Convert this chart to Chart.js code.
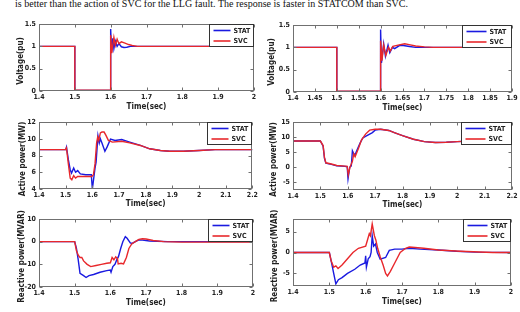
<!DOCTYPE html>
<html><head><meta charset="utf-8">
<script src="https://cdn.jsdelivr.net/npm/chart.js@4/dist/chart.umd.min.js"></script>
<style>
html,body{margin:0;padding:0;background:#fff;width:520px;height:312px;overflow:hidden;position:relative;}
#cap{position:absolute;left:15px;top:-1.4px;font:10px 'Liberation Serif','Times New Roman',serif;line-height:10px;white-space:nowrap;color:#111;transform-origin:0 0;}
.box{position:absolute;}
canvas{display:block;}
</style></head><body>
<div id="cap">is better than the action of SVC for the LLG fault. The response is faster in STATCOM than SVC.</div>
<div class="box" id="b0"><canvas id="c0"></canvas></div>
<div class="box" id="b1"><canvas id="c1"></canvas></div>
<div class="box" id="b2"><canvas id="c2"></canvas></div>
<div class="box" id="b3"><canvas id="c3"></canvas></div>
<div class="box" id="b4"><canvas id="c4"></canvas></div>
<div class="box" id="b5"><canvas id="c5"></canvas></div>
<script>
// ---------- DATA ----------
const seriesNames = ['STAT', 'SVC'];
const xTitle = 'Time(sec)';
const yTitles = ['Voltage(pu)', 'Voltage(pu)', 'Active power(MW)', 'Active power(MW)', 'Reactive power(MVAR)', 'Reactive power(MVAR)'];

// Panel 1: Voltage (left)
const voltA_xTicks = [1.4, 1.5, 1.6, 1.7, 1.8, 1.9, 2];
const voltA_yTicks = [0, 0.5, 1, 1.5];
const voltA_stat_t = [1.4, 1.5, 1.5, 1.6, 1.6, 1.6025, 1.606, 1.609, 1.613, 1.618, 1.623, 1.63, 1.637, 1.645, 1.655, 1.665, 2];
const voltA_stat_v = [1, 1, 0.01, 0.01, 1.39, 0.87, 1.18, 0.95, 1.12, 1.0, 1.06, 0.99, 0.975, 0.98, 1.0, 1.0, 1];
const voltA_svc_t = [1.4, 1.5, 1.5, 1.6, 1.6, 1.603, 1.609, 1.613, 1.618, 1.623, 1.63, 1.64, 1.65, 1.66, 1.675, 2];
const voltA_svc_v = [1, 1, 0.02, 0.02, 1.25, 0.85, 1.2, 1.02, 1.16, 1.06, 1.1, 1.07, 1.04, 1.02, 1.0, 1];

// Panel 2: Voltage (right)
const voltB_xTicks = [1.4, 1.45, 1.5, 1.55, 1.6, 1.65, 1.7, 1.75, 1.8, 1.85, 1.9];
const voltB_yTicks = [0, 0.5, 1, 1.5];
const voltB_stat_t = [1.4, 1.5, 1.5, 1.6, 1.6, 1.602, 1.607, 1.611, 1.617, 1.621, 1.627, 1.632, 1.643, 1.652, 1.666, 1.68, 1.9];
const voltB_stat_v = [1, 1, 0.01, 0.01, 1.4, 0.65, 1.08, 0.8, 1.05, 0.88, 1.0, 0.97, 1.04, 1.04, 1.02, 1.0, 1];
const voltB_svc_t = [1.4, 1.5, 1.5, 1.6, 1.6, 1.603, 1.607, 1.612, 1.618, 1.622, 1.628, 1.64, 1.655, 1.665, 1.68, 1.7, 1.72, 1.9];
const voltB_svc_v = [1, 1, 0.02, 0.02, 1.15, 0.7, 1.05, 0.82, 1.0, 0.92, 1.02, 1.05, 1.08, 1.06, 1.03, 1.01, 1.0, 1];

// Panel 3: Active power (left)
const pA_xTicks = [1.4, 1.5, 1.6, 1.7, 1.8, 1.9, 2, 2.1, 2.2];
const pA_yTicks = [4, 6, 8, 10, 12];
const pA_stat_t = [1.4, 1.5, 1.503, 1.51, 1.517, 1.522, 1.53, 1.537, 1.545, 1.555, 1.575, 1.596, 1.6, 1.61, 1.614, 1.621, 1.626, 1.63, 1.636, 1.647, 1.655, 1.668, 1.685, 1.71, 1.74, 1.78, 1.815, 1.855, 1.89, 1.94, 2.0, 2.06, 2.2];
const pA_stat_v = [8.7, 8.7, 9.0, 7.5, 6.3, 5.9, 6.5, 6.0, 6.2, 5.8, 5.7, 5.7, 4.0, 6.5, 7.2, 10.35, 9.5, 10.0, 9.5, 8.5, 9.0, 9.95, 9.8, 9.9, 9.6, 9.2, 8.8, 8.6, 8.5, 8.5, 8.6, 8.7, 8.7];
const pA_svc_t = [1.4, 1.5, 1.503, 1.51, 1.517, 1.523, 1.53, 1.537, 1.545, 1.57, 1.598, 1.604, 1.61, 1.616, 1.62, 1.624, 1.63, 1.636, 1.644, 1.651, 1.66, 1.675, 1.71, 1.74, 1.78, 1.815, 1.855, 1.89, 1.94, 2.0, 2.06, 2.2];
const pA_svc_v = [8.7, 8.7, 8.9, 7.0, 5.3, 5.1, 5.6, 5.3, 5.5, 5.5, 5.5, 5.7, 7.0, 9.5, 10.2, 9.8, 10.7, 10.8, 10.8, 10.4, 9.8, 9.6, 9.7, 9.5, 9.2, 8.8, 8.6, 8.5, 8.5, 8.6, 8.7, 8.7];

// Panel 4: Active power (right)
const pB_xTicks = [1.4, 1.5, 1.6, 1.7, 1.8, 1.9, 2, 2.1, 2.2];
const pB_yTicks = [-5, 0, 5, 10, 15];
const pB_stat_t = [1.4, 1.5, 1.51, 1.515, 1.52, 1.54, 1.56, 1.59, 1.598, 1.601, 1.607, 1.613, 1.617, 1.622, 1.626, 1.635, 1.645, 1.655, 1.67, 1.69, 1.70, 1.72, 1.75, 1.77, 1.8, 1.84, 1.88, 1.92, 1.96, 2.0, 2.05, 2.2];
const pB_stat_v = [8.7, 8.7, 7.0, 3.0, 1.4, 1.0, 0.5, 0.3, 0.2, -3.8, 0.0, 0.5, 5.5, 4.5, 4.0, 6.0, 8.0, 9.7, 10.5, 11.5, 12.3, 12.6, 12.2, 11.5, 10.5, 9.3, 8.5, 8.2, 8.3, 8.5, 8.7, 8.7];
const pB_svc_t = [1.4, 1.5, 1.51, 1.515, 1.52, 1.54, 1.56, 1.59, 1.598, 1.602, 1.608, 1.617, 1.622, 1.627, 1.64, 1.65, 1.665, 1.68, 1.70, 1.72, 1.75, 1.77, 1.8, 1.84, 1.88, 1.92, 1.96, 2.0, 2.05, 2.2];
const pB_svc_v = [8.7, 8.7, 7.2, 3.2, 1.5, 1.1, 0.6, 0.4, 0.3, -2.5, 0.0, 2.0, 4.5, 3.5, 6.5, 9.0, 11.0, 12.3, 12.6, 12.6, 12.2, 11.5, 10.5, 9.3, 8.5, 8.2, 8.3, 8.5, 8.7, 8.7];

// Panel 5: Reactive power (left)
const qA_xTicks = [1.4, 1.5, 1.6, 1.7, 1.8, 1.9, 2];
const qA_yTicks = [-20, -10, 0, 10];
const qA_stat_t = [1.4, 1.5, 1.505, 1.51, 1.515, 1.525, 1.532, 1.54, 1.553, 1.571, 1.59, 1.6, 1.602, 1.607, 1.613, 1.618, 1.623, 1.629, 1.635, 1.642, 1.647, 1.656, 1.661, 1.67, 1.68, 1.69, 1.71, 1.73, 1.76, 2];
const qA_stat_v = [0, 0, -3, -8, -14, -15, -15.8, -15, -14.5, -13.5, -12.8, -12.5, -13.5, -11, -10, -8, -6.5, -3, 0, 2.2, 1.5, -0.5, -0.8, 0, 0.8, 0.7, 0.3, 0.2, 0, 0];
const qA_svc_t = [1.4, 1.5, 1.505, 1.51, 1.515, 1.52, 1.525, 1.535, 1.545, 1.56, 1.575, 1.59, 1.6, 1.605, 1.61, 1.615, 1.62, 1.622, 1.63, 1.637, 1.645, 1.652, 1.66, 1.67, 1.68, 1.69, 1.7, 1.72, 1.75, 1.8, 2];
const qA_svc_v = [0, 0, -4, -6, -7, -7, -8.5, -10, -11, -10.5, -10, -9.5, -9.3, -7, -8, -6.7, -7.5, -9.8, -9.5, -9.8, -7, -3, -1, 0, 1, 1.3, 1.2, 0.5, 0, -0.2, -0.2];

// Panel 6: Reactive power (right)
const qB_xTicks = [1.4, 1.5, 1.6, 1.7, 1.8, 1.9, 2];
const qB_yTicks = [-5, 0, 5];
const qB_stat_t = [1.4, 1.5, 1.505, 1.512, 1.518, 1.525, 1.535, 1.55, 1.57, 1.585, 1.598, 1.6, 1.602, 1.607, 1.612, 1.615, 1.618, 1.622, 1.627, 1.632, 1.64, 1.655, 1.665, 1.68, 1.7, 1.72, 1.75, 1.8, 1.85, 1.9, 2];
const qB_stat_v = [0, 0, -2, -5, -7.5, -6.5, -6, -5, -4, -3, -2.5, -0.8, -3.5, -1.5, -1, 0, 4, 1.5, 2, 0, -1.6, -1.2, 0.5, 0.8, 0.8, 1, 0.8, 0.6, 0.3, 0.1, 0];
const qB_svc_t = [1.4, 1.5, 1.505, 1.512, 1.518, 1.524, 1.535, 1.55, 1.565, 1.58, 1.6, 1.605, 1.61, 1.613, 1.618, 1.624, 1.628, 1.633, 1.64, 1.648, 1.655, 1.66, 1.668, 1.68, 1.695, 1.71, 1.72, 1.76, 1.8, 1.86, 1.95, 2];
const qB_svc_v = [0, 0, -2, -3.5, -3.2, -3.8, -3, -1.5, 0, 1, 1.5, 3, 4.5, 4, 6.8, 4, 3, 1, -1, -3, -5, -5.6, -4.5, -2.5, 0, 1, 1.3, 1.0, 0.6, 0.3, 0, 0];

// ---------- LAYOUT ----------
const FAM = "'Liberation Sans Narrow','DejaVu Sans Condensed','Liberation Sans',Arial,sans-serif";
const STAT_COLOR = '#1a1ae0';
const SVC_COLOR = '#e8272b';
const TITLE_SIZE = 8, TICK_SIZE = 7;
const HALF = TITLE_SIZE * 1.2 / 2;

const zip = (t, v) => t.map((x, i) => ({x, y: v[i]}));

const panels = [
  {rect: [0, 12, 260, 100], yTitleX: 21, plot: [39, 254, 24, 91], xTitleY: 106.5, xr: [1.4, 2], yr: [0, 1.5], xt: voltA_xTicks, yt: voltA_yTicks, s: zip(voltA_stat_t, voltA_stat_v), r: zip(voltA_svc_t, voltA_svc_v), lw: 44},
  {rect: [260, 12, 260, 100], yTitleX: 272, plot: [293, 512, 25, 92], xTitleY: 108, xr: [1.4, 1.9], yr: [0, 1.5], xt: voltB_xTicks, yt: voltB_yTicks, s: zip(voltB_stat_t, voltB_stat_v), r: zip(voltB_svc_t, voltB_svc_v), lw: 49},
  {rect: [0, 112, 260, 98], yTitleX: 22.5, plot: [39, 253, 122, 189], xTitleY: 204, xr: [1.4, 2.2], yr: [4, 12], xt: pA_xTicks, yt: pA_yTicks, s: zip(pA_stat_t, pA_stat_v), r: zip(pA_svc_t, pA_svc_v), lw: 44},
  {rect: [260, 112, 260, 98], yTitleX: 274, plot: [293, 512, 122, 190], xTitleY: 204.5, xr: [1.4, 2.2], yr: [-7.5, 15], xt: pB_xTicks, yt: pB_yTicks, s: zip(pB_stat_t, pB_stat_v), r: zip(pB_svc_t, pB_svc_v), lw: 50},
  {rect: [0, 210, 260, 102], yTitleX: 21.5, plot: [39, 253, 219, 287], xTitleY: 302.5, xr: [1.4, 2], yr: [-20, 10], xt: qA_xTicks, yt: qA_yTicks, s: zip(qA_stat_t, qA_stat_v), r: zip(qA_svc_t, qA_svc_v), lw: 44},
  {rect: [260, 210, 260, 102], yTitleX: 274.5, plot: [293, 511, 219, 286], xTitleY: 301.5, xr: [1.4, 2], yr: [-8, 8], xt: qB_xTicks, yt: qB_yTicks, s: zip(qB_stat_t, qB_stat_v), r: zip(qB_svc_t, qB_svc_v), lw: 47}
];

const framePlugin = {
  id: 'frame',
  afterDatasetsDraw(chart) {
    const {ctx, chartArea: a, scales: {x, y}} = chart;
    const o = chart.options.plugins.frame;
    const lw = o.legendWidth;
    ctx.save();
    const L = Math.round(a.left) + 0.5, R = Math.round(a.right) - 0.5;
    const T = Math.round(a.top) + 0.5, B = Math.round(a.bottom) - 0.5;
    ctx.strokeStyle = '#707070';
    ctx.lineWidth = 1;
    ctx.strokeRect(L, T, R - L, B - T);
    ctx.beginPath();
    x.ticks.forEach(t => {
      const px = Math.round(x.getPixelForValue(t.value)) + 0.5;
      ctx.moveTo(px, B); ctx.lineTo(px, B - 3);
      ctx.moveTo(px, T); ctx.lineTo(px, T + 3);
    });
    y.ticks.forEach(t => {
      const py = Math.round(y.getPixelForValue(t.value)) + 0.5;
      ctx.moveTo(L, py); ctx.lineTo(L + 3, py);
      ctx.moveTo(R, py); ctx.lineTo(R - 3, py);
    });
    ctx.stroke();
    // y-axis title
    ctx.save();
    ctx.translate(o.yTitleX, (a.top + a.bottom) / 2 + 3.5);
    ctx.rotate(-Math.PI / 2);
    ctx.font = 'bold ' + TITLE_SIZE + 'px ' + FAM;
    ctx.fillStyle = '#222';
    ctx.textAlign = 'center';
    ctx.textBaseline = 'middle';
    ctx.fillText(o.yTitle, 0, 0);
    ctx.restore();
    // legend
    const bw = lw, bh = 22;
    const bx = R - bw, by = T;
    ctx.fillStyle = '#fff';
    ctx.fillRect(bx, by, bw, bh);
    ctx.strokeStyle = '#333';
    ctx.strokeRect(bx, by, bw, bh);
    const lineLen = lw > 46 ? 20 : 17;
    ctx.font = 'bold ' + TICK_SIZE + 'px ' + FAM;
    ctx.textBaseline = 'middle';
    ctx.textAlign = 'left';
    chart.data.datasets.forEach((d, i) => {
      const ry = by + 6 + i * 10.5;
      ctx.strokeStyle = d.borderColor;
      ctx.lineWidth = 1.6;
      ctx.beginPath();
      ctx.moveTo(bx + 4, ry); ctx.lineTo(bx + 4 + lineLen, ry);
      ctx.stroke();
      ctx.fillStyle = '#222';
      ctx.fillText(d.label, bx + 7 + lineLen, ry + 0.5);
    });
    ctx.restore();
  }
};

Chart.defaults.font.family = FAM;
Chart.defaults.color = '#222';

const fmt = v => String(+(+v).toFixed(3));

panels.forEach((p, i) => {
  const [cx, cy, cw, ch] = p.rect;
  const [pl, pr, pt, pb] = p.plot;
  const box = document.getElementById('b' + i);
  box.style.left = cx + 'px'; box.style.top = cy + 'px';
  const cv = document.getElementById('c' + i);
  cv.width = cw; cv.height = ch;
  cv.style.width = cw + 'px'; cv.style.height = ch + 'px';
  const yWidth = pl - cx;
  const xBottom = p.xTitleY + HALF;
  const xHeight = xBottom - pb;
  const padBottom = cy + ch - xBottom;
  new Chart(cv, {
    type: 'line',
    data: {
      datasets: [
        {label: seriesNames[0], data: p.s, borderColor: STAT_COLOR, borderWidth: 1.4, pointRadius: 0, tension: 0, order: 1, fill: false},
        {label: seriesNames[1], data: p.r, borderColor: SVC_COLOR, borderWidth: 1.4, pointRadius: 0, tension: 0, order: 0, fill: false}
      ]
    },
    options: {
      responsive: false,
      animation: false,
      events: [],
      layout: {padding: {left: 0, right: cx + cw - pr, top: pt - cy, bottom: padBottom}},
      plugins: {legend: {display: false}, tooltip: {enabled: false},
        frame: {legendWidth: p.lw, yTitle: yTitles[i], yTitleX: p.yTitleX - cx}},
      scales: {
        x: {
          type: 'linear', min: p.xr[0], max: p.xr[1],
          grid: {display: false, drawTicks: false}, border: {display: false},
          afterBuildTicks: s => { s.ticks = p.xt.map(v => ({value: v})); },
          afterFit: s => { s.height = xHeight; },
          ticks: {autoSkip: false, maxRotation: 0, padding: 2, font: {size: TICK_SIZE, weight: 'bold'}, callback: fmt},
          title: {display: true, text: xTitle, padding: {top: 0, bottom: 0}, font: {size: TITLE_SIZE, weight: 'bold'}}
        },
        y: {
          type: 'linear', min: p.yr[0], max: p.yr[1],
          grid: {display: false, drawTicks: false}, border: {display: false},
          afterBuildTicks: s => { s.ticks = p.yt.map(v => ({value: v})); },
          afterFit: s => { s.width = yWidth; },
          ticks: {padding: 3, font: {size: TICK_SIZE, weight: 'bold'}, callback: fmt}
        }
      }
    },
    plugins: [framePlugin]
  });
});

// fit caption width to the reference line length
const cap = document.getElementById('cap');
const w = cap.getBoundingClientRect().width;
if (w > 0) cap.style.transform = 'scaleX(' + (393 / w) + ')';
</script>
</body></html>
